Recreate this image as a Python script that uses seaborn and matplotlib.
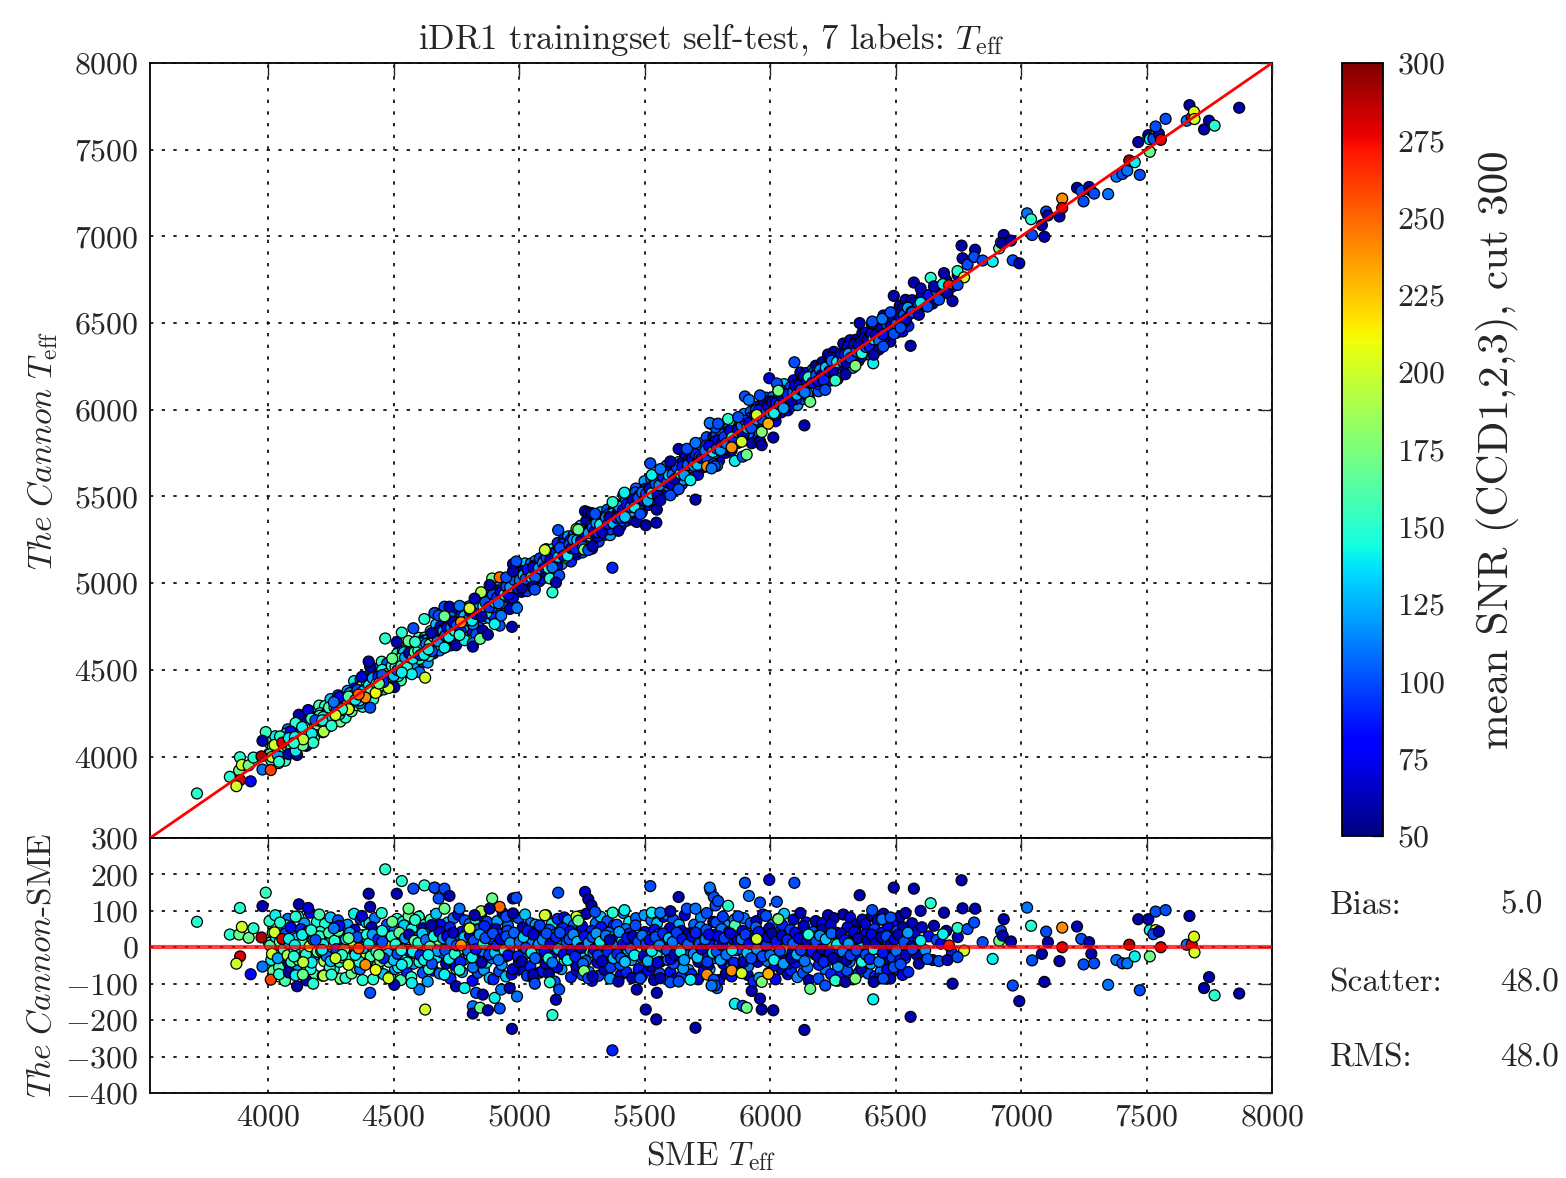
import numpy as np
import pandas as pd
import matplotlib
matplotlib.use("Agg")
import matplotlib.pyplot as plt
import seaborn as sns
from matplotlib.colors import Normalize
from matplotlib.cm import ScalarMappable

# ---------------- data ----------------
# dense band of the sample: SME Teff, Cannon-SME residual, mean SNR
band_sme = [
    4004, 4013, 4019, 4027, 4035, 4044, 4051, 4058, 4066, 4073, 4081, 4089, 4096,
    4103, 4109, 4118, 4125, 4131, 4140, 4147, 4155, 4162, 4170, 4177, 4185, 4193,
    4202, 4208, 4216, 4224, 4230, 4239, 4246, 4253, 4261, 4268, 4276, 4284, 4291,
    4301, 4307, 4315, 4322, 4330, 4338, 4345, 4352, 4360, 4367, 4375, 4383, 4390,
    4398, 4406, 4413, 4421, 4428, 4436, 4443, 4451, 4459, 4466, 4474, 4481, 4489,
    4497, 4504, 4512, 4519, 4527, 4535, 4542, 4550, 4558, 4565, 4573, 4580, 4588,
    4596, 4603, 4611, 4618, 4626, 4634, 4641, 4649, 4657, 4664, 4672, 4679, 4687,
    4695, 4702, 4710, 4718, 4725, 4733, 4740, 4748, 4756, 4763, 4771, 4778, 4786,
    4794, 4801, 4809, 4817, 4824, 4832, 4839, 4847, 4855, 4862, 4870, 4877, 4885,
    4893, 4900, 4908, 4916, 4923, 4931, 4938, 4946, 4954, 4961, 4969, 4976, 4984,
    4992, 5000, 5007, 5015, 5022, 5030, 5038, 5045, 5053, 5060, 5068, 5076, 5083,
    5091, 5099, 5106, 5114, 5121, 5129, 5137, 5144, 5152, 5159, 5167, 5175, 5182,
    5190, 5198, 5205, 5213, 5220, 5228, 5236, 5243, 5251, 5258, 5266, 5274, 5281,
    5289, 5297, 5304, 5312, 5319, 5327, 5335, 5342, 5350, 5357, 5365, 5373, 5380,
    5388, 5396, 5403, 5411, 5418, 5426, 5434, 5441, 5449, 5456, 5464, 5472, 5479,
    5487, 5495, 5502, 5510, 5517, 5525, 5533, 5540, 5548, 5555, 5563, 5571, 5578,
    5586, 5594, 5601, 5609, 5616, 5624, 5632, 5639, 5647, 5654, 5662, 5670, 5677,
    5685, 5693, 5700, 5708, 5715, 5723, 5731, 5738, 5746, 5753, 5761, 5769, 5776,
    5784, 5792, 5799, 5807, 5814, 5822, 5830, 5837, 5845, 5852, 5860, 5868, 5875,
    5883, 5891, 5898, 5906, 5913, 5921, 5929, 5936, 5944, 5951, 5959, 5967, 5974,
    5982, 5990, 5997, 6005, 6012, 6020, 6028, 6035, 6043, 6050, 6058, 6066, 6073,
    6081, 6089, 6096, 6104, 6111, 6119, 6127, 6134, 6142, 6149, 6157, 6165, 6172,
    6180, 6188, 6195, 6203, 6210, 6218, 6226, 6233, 6241, 6248, 6256, 6264, 6271,
    6279, 6287, 6294, 6302, 6309, 6317, 6325, 6332, 6340, 6347, 6355, 6363, 6370,
    6378, 6386, 6393, 6401, 6408, 6416, 6424, 6431, 6439, 6446, 6454, 6462, 6469,
    6477, 6485, 6492, 6500, 6507, 6515, 6523, 6530, 6538, 6545, 6553, 6561, 6568,
    6576, 6584, 6591, 6605, 6618, 6632, 6648, 6664, 6681, 6702, 6725, 6748,
]
band_resid = [
    12, -35, 40, -8, 25, -55, 5, 33, -20, 60, -42, 18, -5,
    30, -15, -48, 22, 50, -3, -30, 14, 45, -60, 8, -22, 35,
    -12, 42, 20, -38, 5, 28, -55, 16, -24, 52, 0, -40, 25,
    38, -20, 10, -45, 26, -8, 48, -30, 15, -60, 33, 4, -18,
    20, -35, 55, -10, 32, -50, 8, 40, -25, 12, 62, -40, -2,
    -22, 45, 15, -55, 30, -5, 60, -30, 22, -12, 50, -45, 8,
    28, -40, 5, 52, -18, 38, -60, 15, -8, 45, -28, 20, 62,
    -15, 35, -45, 12, 55, -25, 8, -50, 30, -5, 42, -35, 18,
    40, -20, 25, -55, 5, 48, -30, 15, -10, 58, -42, 22, -2,
    -30, 20, 50, -12, 35, -48, 10, -25, 45, -5, 28, -60, 15,
    25, -40, 8, 55, -20, 38, -8, -52, 18, 42, -30, 5, 60,
    -10, 30, -45, 15, 48, -25, 5, 35, -55, 20, -12, 52, -35,
    12, -28, 44, -5, 25, -50, 38, -18, 58, 2, -38, 22, -8,
    45, -15, 20, -42, 8, 55, -30, 15, -5, 40, -55, 28, -20,
    5, 32, -48, 18, -22, 50, -8, 38, -35, 10, 60, -15, 25,
    -28, 15, 42, -12, 28, -52, 5, 48, -20, 35, -40, 12, -2,
    22, -35, 52, -5, -45, 30, 10, -22, 45, -58, 18, -10, 38,
    -15, 40, -2, 25, -40, 55, -25, 12, 48, -50, 30, 5, -30,
    35, -22, 15, 50, -45, 8, -15, 42, -55, 22, 60, -8, 28,
    -5, 45, -30, 18, -52, 32, 5, -20, 55, -40, 12, 38, -12,
    20, -38, 52, -10, 30, -50, 8, 40, -25, 60, -5, 25, -45,
    48, -15, 22, -42, 5, 35, -28, 58, 12, -55, 30, -8, 42,
    -20, 30, -48, 15, 50, -5, 25, -35, 62, 8, -18, 40, -52,
    12, -28, 38, -10, 55, -40, 20, -5, 45, -22, 30, -58, 5,
    35, -15, 5, -45, 28, 50, -25, 15, -8, 40, -35, 22, 60,
    -10, 30, -40, 18, 45, -22, 8, 55, -30, 12, 38, -5, 25,
    40, -20, 15, 55, -8, 30, -35, 20, 10, 45, -15, 28,
]
band_snr = [
    150, 140, 170, 200, 110, 160, 130, 90, 180, 145, 60, 210, 150,
    140, 175, 120, 150, 90, 200, 160, 130, 70, 145, 185, 110, 150,
    160, 150, 100, 190, 135, 80, 150, 170, 140, 120, 210, 150, 100,
    130, 150, 180, 95, 145, 240, 70, 160, 150, 110, 175, 140, 200,
    150, 120, 60, 170, 140, 155, 90, 150, 185, 130, 100, 160, 145,
    150, 110, 175, 140, 80, 200, 130, 150, 160, 70, 145, 120, 190,
    100, 150, 140, 60, 170, 120, 150, 90, 150, 110, 140, 175, 80,
    100, 140, 60, 110, 90, 150, 120, 70, 100, 165, 85, 130, 110,
    95, 150, 70, 110, 130, 100, 60, 175, 115, 90, 140, 100, 80,
    110, 100, 65, 160, 90, 120, 140, 80, 100, 105, 200, 70, 130,
    100, 85, 140, 60, 120, 105, 150, 90, 115, 70, 130, 100, 95,
    120, 95, 60, 145, 100, 80, 170, 110, 70, 130, 100, 90, 150,
    100, 130, 80, 110, 160, 60, 95, 140, 75, 120, 105, 85, 150,
    90, 110, 140, 70, 100, 85, 120, 165, 60, 105, 95, 130, 75,
    115, 80, 100, 145, 65, 110, 130, 90, 120, 60, 100, 155, 95,
    100, 140, 70, 110, 95, 60, 125, 85, 150, 105, 75, 115, 180,
    90, 110, 65, 130, 100, 80, 145, 95, 60, 120, 105, 150, 70,
    105, 75, 140, 95, 60, 115, 90, 165, 100, 70, 125, 85, 110,
    90, 60, 100, 110, 70, 140, 95, 65, 120, 80, 160, 100, 75,
    100, 70, 130, 60, 110, 95, 150, 80, 105, 65, 120, 90, 175,
    80, 110, 60, 140, 95, 70, 120, 100, 65, 90, 155, 105, 75,
    95, 60, 120, 85, 150, 70, 105, 65, 90, 110, 140, 75, 100,
    70, 100, 90, 145, 60, 115, 80, 105, 65, 170, 95, 60, 120,
    100, 65, 130, 85, 70, 110, 60, 150, 90, 75, 105, 60, 140,
    80, 100, 60, 120, 70, 95, 155, 65, 110, 85, 60, 100, 75,
    60, 90, 110, 65, 100, 75, 140, 60, 95, 70, 105, 60, 85,
    70, 60, 100, 65, 120, 85, 60, 100, 75, 60, 90, 65,
]

# outer edge of the band (|residual| ~ 60-95 K)
mid_sme = [
    4006, 4021, 4029, 4042, 4055, 4068, 4079, 4091,
    4112, 4120, 4133, 4145, 4158, 4167, 4183, 4195,
    4204, 4218, 4227, 4241, 4249, 4262, 4279, 4288,
    4309, 4317, 4333, 4343, 4354, 4369, 4377, 4392,
    4404, 4419, 4426, 4438, 4453, 4461, 4476, 4487,
    4506, 4514, 4529, 4537, 4552, 4560, 4571, 4586,
    4601, 4617, 4624, 4636, 4648, 4659, 4670, 4684,
    4705, 4716, 4727, 4739, 4750, 4758, 4773, 4784,
    4803, 4815, 4826, 4836, 4849, 4860, 4872, 4883,
    4898, 4913, 4921, 4935, 4948, 4956, 4971, 4982,
    4998, 5010, 5024, 5032, 5047, 5058, 5066, 5081,
    5093, 5108, 5119, 5131, 5142, 5154, 5169, 5180,
    5196, 5207, 5218, 5230, 5245, 5253, 5268, 5279,
    5291, 5306, 5317, 5325, 5340, 5352, 5363, 5378,
    5390, 5405, 5416, 5428, 5439, 5451, 5466, 5477,
    5489, 5500, 5515, 5527, 5538, 5550, 5561, 5576,
    5588, 5603, 5614, 5626, 5637, 5649, 5660, 5675,
    5687, 5698, 5713, 5725, 5736, 5748, 5759, 5774,
    5786, 5797, 5812, 5824, 5835, 5847, 5858, 5873,
    5885, 5896, 5911, 5923, 5934, 5946, 5957, 5972,
    5984, 5995, 6010, 6022, 6033, 6045, 6056, 6071,
    6083, 6094, 6109, 6121, 6132, 6144, 6155, 6170,
    6182, 6193, 6208, 6220, 6231, 6243, 6254, 6269,
    6281, 6292, 6307, 6319, 6330, 6342, 6353, 6368,
    6380, 6391, 6406, 6418, 6429, 6441, 6452, 6467,
    6479, 6490, 6505, 6517, 6528, 6540, 6551, 6566,
]
mid_resid = [
    72, -65, 88, -80, 60, -92, 78, -58,
    -70, 85, -62, 66, -88, 95, -75, 70,
    90, -78, 64, -68, 82, -60, 74, -86,
    -84, 62, -72, 92, -58, 76, -90, 68,
    66, -88, 80, -62, 94, -74, 58, -80,
    -60, 78, -90, 70, -66, 86, -82, 62,
    84, -70, 62, -94, 76, -64, 92, -72,
    -76, 68, -86, 80, -60, 90, -68, 74,
    64, -92, 78, -70, 88, -62, 70, -84,
    -88, 72, -66, 94, -80, 60, -74, 86,
    80, -60, 90, -78, 66, -86, 62, -70,
    -66, 88, -72, 64, -94, 78, -60, 82,
    74, -82, 60, -64, 86, -76, 92, -68,
    -92, 66, -78, 84, -62, 72, -86, 60,
    62, -76, 94, -68, 70, -84, 80, -60,
    -80, 88, -64, 74, -90, 66, -72, 84,
    90, -68, 76, -86, 62, -78, 88, -62,
    -74, 62, -88, 82, -66, 94, -60, 70,
    68, -90, 84, -72, 60, -80, 76, -64,
    -62, 80, -76, 66, -94, 72, -84, 90,
    86, -70, 62, -88, 78, -60, 92, -74,
    -64, 76, -82, 94, -70, 68, -90, 62,
    72, -86, 66, -60, 88, -74, 80, -92,
    -78, 90, -64, 82, -88, 62, -70, 76,
    64, -72, 86, -80, 74, -66, 92, -62,
    -86, 70, -60, 84, -76, 94, -68, 66,
]
mid_snr = [
    150, 170, 140, 200, 130, 160, 110, 150,
    140, 150, 190, 120, 150, 80, 160, 145,
    160, 140, 150, 200, 130, 150, 100, 170,
    150, 120, 170, 140, 160, 90, 150, 135,
    140, 150, 110, 180, 150, 130, 200, 150,
    120, 150, 160, 140, 90, 170, 150, 130,
    150, 100, 140, 120, 160, 80, 130, 110,
    100, 130, 90, 110, 150, 70, 120, 100,
    110, 80, 140, 100, 70, 120, 95, 130,
    90, 120, 100, 60, 130, 105, 80, 110,
    100, 70, 130, 95, 110, 60, 120, 90,
    85, 110, 60, 140, 100, 90, 120, 75,
    120, 90, 105, 70, 130, 100, 60, 115,
    80, 110, 95, 130, 60, 100, 120, 90,
    100, 70, 115, 90, 140, 60, 105, 85,
    95, 120, 80, 110, 65, 130, 100, 75,
    110, 85, 100, 60, 125, 95, 70, 120,
    90, 105, 65, 115, 80, 100, 130, 60,
    100, 70, 95, 60, 120, 85, 110, 65,
    75, 110, 60, 100, 90, 65, 120, 85,
    100, 60, 110, 80, 95, 70, 130, 65,
    90, 70, 115, 60, 100, 85, 60, 120,
    60, 100, 75, 110, 65, 90, 60, 105,
    85, 60, 100, 70, 120, 60, 95, 65,
    70, 100, 60, 90, 65, 110, 60, 80,
    60, 85, 100, 60, 75, 60, 90, 65,
]

# tight core of the band
core_sme = [
    4008, 4016, 4031, 4039, 4047, 4062, 4070, 4078, 4085, 4093,
    4106, 4114, 4122, 4136, 4144, 4151, 4166, 4174, 4181, 4197,
    4205, 4212, 4220, 4234, 4243, 4250, 4265, 4272, 4280, 4295,
    4304, 4311, 4319, 4326, 4341, 4349, 4356, 4364, 4379, 4394,
    4402, 4409, 4417, 4432, 4440, 4447, 4455, 4470, 4478, 4493,
    4501, 4508, 4516, 4523, 4531, 4546, 4554, 4562, 4577, 4584,
    4599, 4607, 4615, 4622, 4630, 4645, 4653, 4661, 4676, 4683,
    4698, 4706, 4714, 4721, 4729, 4737, 4744, 4752, 4767, 4782,
    4797, 4805, 4813, 4820, 4828, 4843, 4851, 4858, 4866, 4881,
    4896, 4904, 4912, 4919, 4927, 4942, 4950, 4957, 4965, 4980,
    4996, 5003, 5011, 5018, 5026, 5034, 5049, 5057, 5064, 5079,
    5095, 5102, 5110, 5117, 5125, 5133, 5148, 5156, 5163, 5178,
    5194, 5201, 5209, 5216, 5224, 5232, 5247, 5255, 5262, 5277,
    5293, 5300, 5308, 5315, 5323, 5331, 5346, 5354, 5361, 5376,
    5392, 5399, 5407, 5414, 5422, 5430, 5445, 5453, 5460, 5475,
    5491, 5498, 5506, 5513, 5521, 5529, 5544, 5552, 5559, 5574,
    5590, 5597, 5605, 5612, 5620, 5628, 5643, 5651, 5658, 5673,
    5689, 5696, 5704, 5711, 5719, 5727, 5742, 5750, 5757, 5772,
    5788, 5795, 5803, 5810, 5818, 5826, 5841, 5849, 5856, 5871,
    5887, 5894, 5902, 5909, 5917, 5925, 5940, 5948, 5955, 5970,
    5986, 5993, 6001, 6008, 6016, 6024, 6039, 6047, 6054, 6069,
    6085, 6092, 6100, 6107, 6115, 6123, 6138, 6146, 6153, 6168,
    6184, 6191, 6199, 6206, 6214, 6222, 6237, 6245, 6252, 6267,
    6283, 6290, 6298, 6305, 6313, 6321, 6336, 6344, 6351, 6366,
    6382, 6389, 6397, 6404, 6412, 6420, 6435, 6443, 6450, 6465,
    6481, 6488, 6496, 6503, 6511, 6519, 6534, 6542, 6549, 6564,
]
core_resid = [
    5, -18, 28, -30, 15, -5, 38, -22, 10, -40,
    -8, 25, -35, 12, 36, -20, 3, -42, 20, -12,
    30, -10, 8, -25, 40, -38, 18, -5, 45, -28,
    -5, 22, -32, 40, 12, -15, 28, -40, -2, 35,
    10, -25, 35, -12, 22, -38, 45, 5, -18, 30,
    -35, 8, -18, 40, -8, 25, -42, 35, -12, 18,
    12, -22, 38, -35, 20, 2, -45, 30, -10, 42,
    25, -8, 30, -32, 15, 40, -18, 5, -40, 28,
    -10, 32, -28, 18, -5, 35, -42, 10, 25, -20,
    38, -15, 5, -35, 22, -8, 30, -22, 12, 40,
    -25, 15, -38, 28, -2, 45, -15, 35, -30, 8,
    20, -12, 38, -30, 10, -42, 28, -5, 40, -20,
    -35, 22, -8, 35, -25, 15, -2, -45, 30, 12,
    28, -5, 38, -22, 15, -38, 32, -12, 20, -30,
    -18, 42, -30, 8, -40, 25, -5, 30, -22, 15,
    32, -25, 10, -38, 20, -10, 28, -42, 5, 38,
    -8, 25, -32, 15, -20, 40, -12, 22, -35, 8,
    30, -18, 40, -28, 10, -5, 22, -40, 35, -15,
    -12, 30, -35, 5, 25, -20, 38, -8, -42, 18,
    22, -40, 35, -15, 10, -30, 28, -5, 42, -25,
    5, 28, -22, 38, -35, 15, -10, 32, -45, 20,
    -30, 10, 40, -20, 25, -8, -38, 18, 35, -12,
    15, -25, 32, -5, -40, 22, -15, 38, -30, 8,
    38, -12, 20, -35, 10, -22, 42, -8, 25, -40,
    -20, 18, -32, 35, -5, 12, -40, 28, -15, 30,
    8, -28, 22, -10, 35, -35, 15, -20, 40, 2,
]
core_snr = [
    160, 200, 140, 120, 170, 150, 100, 190, 140, 155,
    145, 130, 170, 160, 90, 150, 200, 140, 120, 175,
    150, 180, 140, 110, 160, 130, 150, 95, 170, 140,
    170, 140, 150, 120, 200, 160, 100, 145, 130, 150,
    140, 160, 120, 150, 90, 175, 145, 200, 130, 150,
    130, 150, 100, 170, 145, 120, 150, 60, 140, 165,
    150, 90, 130, 140, 110, 160, 100, 145, 120, 70,
    120, 100, 80, 140, 110, 65, 150, 100, 90, 130,
    110, 70, 140, 100, 85, 120, 60, 150, 100, 95,
    100, 130, 90, 110, 70, 150, 100, 80, 120, 105,
    90, 110, 60, 130, 100, 85, 140, 70, 105, 120,
    115, 80, 100, 150, 65, 110, 90, 130, 100, 75,
    140, 100, 70, 115, 90, 130, 60, 105, 85, 120,
    100, 75, 120, 95, 140, 65, 110, 90, 60, 125,
    90, 120, 100, 70, 130, 85, 110, 60, 140, 100,
    110, 65, 95, 125, 80, 140, 100, 70, 115, 90,
    100, 130, 75, 110, 60, 95, 140, 85, 120, 105,
    70, 115, 90, 130, 100, 65, 110, 95, 80, 140,
    100, 80, 120, 60, 95, 110, 70, 140, 90, 65,
    110, 60, 95, 130, 75, 100, 65, 120, 85, 100,
    95, 70, 110, 60, 140, 85, 100, 65, 120, 90,
    60, 105, 80, 125, 70, 95, 110, 60, 150, 85,
    100, 70, 115, 60, 90, 130, 75, 105, 60, 140,
    65, 110, 85, 60, 120, 95, 70, 100, 60, 145,
    100, 60, 90, 75, 140, 65, 110, 60, 85, 100,
    60, 95, 70, 110, 60, 85, 100, 65, 120, 60,
]

# sparser stars and outliers
out_sme = [
    3717, 3888, 3991, 3978, 3848, 3885, 3896, 3923, 3942, 3974,
    3889, 3874, 3931, 3978, 4011, 4026, 4048, 4057, 4123, 4160,
    4110, 4090, 4083, 4044, 4083, 4116, 4110, 4153, 4180, 4139,
    4107, 4136, 4172, 4140, 4103, 4189, 4216, 4222, 4253, 4284,
    4321, 4262, 4374, 4407, 4467, 4533, 4513, 4579, 4623, 4665,
    4401, 4407, 4503, 4603, 4626, 4480, 4573, 4321, 4388, 4429,
    4455, 4495, 4560, 4586, 4652, 4639, 4533, 4348, 4460, 4295,
    4269, 4361, 4442,
    4663, 4703, 4680, 4723, 4703, 4763, 4893, 4923, 4976, 4989,
    4849, 4883, 4803, 4769, 4823, 4949, 4976, 5156, 5263, 5276,
    5289, 5303, 5103, 5229, 5236, 5373, 5420, 5523, 5636, 5529,
    5563, 5603, 5669, 5703, 5763, 5776, 5783,
    4749, 4783, 4829, 4856, 4816, 4816, 4845, 4876, 4923, 4903,
    4929, 4963, 4992, 4972, 4763, 4703, 5056, 5063, 5123, 5160,
    5147, 5133, 5259, 5276, 5293, 5396, 5372, 5469, 5505, 5547,
    5549, 5483, 5563, 5603, 5636, 5683, 5703, 5749, 5776, 5789,
    5760, 5793, 5900, 5997, 6097, 5916, 5960, 6027, 5833, 5873,
    5947, 6033, 6357, 6493, 6573, 6640, 6407, 6447, 6480, 6600,
    6693, 6763, 6767, 6817, 6747, 6787, 6813, 6847, 6653, 6689,
    6713, 6773, 6887, 6600, 6567, 6593, 6627, 6673, 6707, 6747,
    6727, 6560, 6411, 6433, 6493, 6520, 6137, 6160, 6220, 6260,
    6300, 6340, 6413, 6451, 5927, 5960, 5967, 6013, 5860, 5891,
    5907, 5780, 5767, 5847, 5887, 5967, 5993,
    6913, 6920, 6931, 6927, 6960, 6967, 6993, 7024, 7040, 7044,
    7083, 7093, 7100, 7107, 7153, 7164, 7164, 7223, 7240, 7271,
    7280, 7249, 7291, 7347, 7380, 7404, 7423, 7431, 7453, 7467,
    7473, 7507, 7513, 7536, 7513, 7527, 7549, 7536, 7576, 7557,
    7671, 7660, 7680, 7689, 7691, 7749, 7729, 7771, 7869,
]
out_resid = [
    70, 108, 150, 113, 35, 35, 56, 26, 52, 27,
    -25, -45, -74, -53, -89, 41, 68, 23, 118, 108,
    84, 55, 23, -74, -69, -107, -77, -91, -100, -75,
    6, 34, 47, -41, -25, 20, -7, -78, -75, 59,
    25, 52, 86, 111, 214, 182, 147, 161, 170, 163,
    147, -125, -103, -116, -171, -85, -98, -48, -48, -62,
    15, 70, 106, 75, 61, -21, -48, -21, -30, -21,
    -30, -3, -21,
    164, 161, 134, 141, 106, 106, 134, 111, 134, 136,
    99, 106, 52, 6, 88, 84, 93, 150, 152, 132,
    115, 97, 88, 84, 73, 95, 102, 168, 138, 95,
    95, 99, 106, 106, 156, 138, 115,
    -107, -112, -125, -130, -162, -182, -166, -173, -168, -139,
    -116, -112, -135, -224, -62, -75, -75, -100, -96, -116,
    -144, -186, -65, -85, -80, -94, -283, -116, -171, -198,
    -125, -85, -85, -96, -94, -89, -221, -75, -89, -112,
    164, 127, 177, 185, 177, 141, 123, 125, 114, 85,
    23, 77, 143, 164, 161, 121, 102, 77, 82, 100,
    95, 184, 107, 106, 53, 50, 68, 14, 59, 36,
    5, -9, -32, 18, -5, -45, -32, -38, -35, -27,
    -100, -191, -143, -86, -55, -47, -227, -114, -105, -91,
    -95, -86, -95, -86, -120, -141, -171, -173, -155, -161,
    -166, -105, -105, -64, -71, -95, -73,
    18, 45, 77, 32, 16, -105, -148, 109, 59, -36,
    -18, -95, 43, 14, -38, 54, 0, 57, 23, 14,
    -18, -47, -44, -103, -35, -44, -44, 7, -25, 77,
    -118, 77, 47, 47, -25, 36, 43, 98, 102, 0,
    86, 7, 7, 29, -14, -82, -112, -132, -127,
]
out_snr = [
    150, 150, 155, 60, 150, 170, 200, 170, 150, 290,
    280, 200, 80, 110, 260, 200, 150, 280, 60, 70,
    150, 80, 140, 150, 60, 60, 140, 65, 150, 170,
    140, 140, 150, 195, 150, 100, 140, 190, 150, 80,
    165, 110, 70, 60, 150, 150, 60, 100, 150, 80,
    60, 100, 60, 110, 200, 200, 140, 200, 240, 210,
    100, 170, 170, 150, 60, 140, 140, 140, 90, 150,
    200, 250, 170,
    100, 100, 100, 60, 170, 110, 170, 250, 70, 100,
    190, 60, 200, 240, 60, 100, 60, 100, 70, 60,
    60, 100, 200, 200, 170, 150, 140, 100, 60, 140,
    110, 60, 100, 110, 100, 100, 100,
    60, 140, 100, 60, 110, 60, 170, 60, 100, 140,
    110, 60, 110, 60, 150, 140, 60, 100, 150, 100,
    60, 150, 175, 100, 60, 60, 90, 60, 60, 60,
    60, 100, 60, 100, 100, 140, 60, 240, 100, 110,
    110, 100, 100, 70, 100, 110, 100, 100, 150, 100,
    200, 175, 60, 60, 60, 150, 100, 110, 100, 60,
    60, 60, 60, 60, 150, 100, 100, 100, 60, 140,
    270, 200, 140, 140, 100, 60, 100, 100, 60, 100,
    60, 60, 140, 60, 100, 100, 60, 170, 100, 150,
    60, 175, 60, 100, 60, 60, 60, 60, 140, 100,
    170, 100, 110, 240, 200, 175, 230,
    170, 100, 60, 60, 60, 100, 60, 110, 150, 100,
    60, 60, 100, 60, 60, 240, 280, 60, 100, 60,
    60, 100, 100, 110, 110, 100, 110, 290, 140, 60,
    100, 60, 140, 205, 170, 100, 60, 100, 100, 280,
    60, 110, 280, 205, 200, 60, 60, 150, 60,
]

snr_ticks = [50, 75, 100, 125, 150, 175, 200, 225, 250, 275, 300]
teff_ticks = [4000, 4500, 5000, 5500, 6000, 6500, 7000, 7500, 8000]
resid_ticks = [-400, -300, -200, -100, 0, 100, 200, 300]
stat_names = ["Bias:", "Scatter:", "RMS:"]
stat_values = ["5.0", "48.0", "48.0"]

# ---------------- assemble ----------------
def block(a, b, c):
    m = min(len(a), len(b), len(c))
    return pd.DataFrame({"sme": a[:m], "resid": b[:m], "snr": c[:m]})

df = pd.concat([block(mid_sme, mid_resid, mid_snr),
                block(band_sme, band_resid, band_snr),
                block(core_sme, core_resid, core_snr),
                block(out_sme, out_resid, out_snr)], ignore_index=True)
df["cannon"] = df["sme"] + df["resid"]

# ---------------- style ----------------
sns.set_style("white")
plt.rcParams.update({
    "font.family": ["cmr10", "DejaVu Serif"],
    "mathtext.fontset": "cm",
    "axes.formatter.use_mathtext": True,
    "axes.unicode_minus": True,
    "axes.linewidth": 1.3,
    "axes.edgecolor": "black",
})

jet = matplotlib.colormaps["jet"]

fig = plt.figure(figsize=(15.66, 11.78), dpi=100)
ax = fig.add_axes([0.0958, 0.2886, 0.7165, 0.6579])
axr = fig.add_axes([0.0958, 0.0722, 0.7165, 0.2164])
cax = fig.add_axes([0.857, 0.2903, 0.0262, 0.6562])

lo, hi = 3530, 8000
norm = Normalize(vmin=50, vmax=300)
kw = dict(hue="snr", palette=jet, hue_norm=norm, legend=False,
          s=62, edgecolor="black", linewidth=0.9)

sns.scatterplot(data=df, x="sme", y="cannon", ax=ax, zorder=3, **kw)
ax.plot([lo, hi], [lo, hi], color="red", lw=2, zorder=4)
sns.scatterplot(data=df, x="sme", y="resid", ax=axr, zorder=3, **kw)
axr.axhline(0, color="red", lw=3, alpha=0.75, zorder=4)

for a in (ax, axr):
    a.set_xlim(lo, hi)
    a.set_xticks(teff_ticks)
    a.grid(True, color="black", linestyle=(0, (2, 5)), linewidth=1.2)
    a.tick_params(direction="in", length=9, width=1, top=True, right=True,
                  labelsize=23, pad=8)
    a.set_axisbelow(False)

ax.set_ylim(lo, hi)
ax.set_yticks(teff_ticks)
ax.set_xticklabels([])
ax.set_xlabel("")
ax.set_ylabel(r"$\mathit{The\ Cannon}\ T_{\rm eff}$", fontsize=24, labelpad=10)
ax.set_title(r"iDR1 trainingset self-test, 7 labels: $T_{\rm eff}$", fontsize=25, pad=10)

axr.set_ylim(-400, 300)
axr.set_yticks(resid_ticks)
axr.set_xlabel(r"SME $T_{\rm eff}$", fontsize=24, labelpad=6)
axr.set_ylabel(r"$\mathit{The\ Cannon}$-SME", fontsize=24, labelpad=6)

sm = ScalarMappable(norm=norm, cmap=jet)
cb = fig.colorbar(sm, cax=cax, ticks=snr_ticks)
cb.ax.tick_params(direction="in", length=8, width=1, labelsize=23, pad=10)
cb.outline.set_linewidth(1.3)
cb.set_label("mean SNR (CCD1,2,3), cut 300", fontsize=31, labelpad=22)

ys = [0.2317, 0.1655, 0.1019]
for name, val, y in zip(stat_names, stat_values, ys):
    fig.text(0.849, y, name, fontsize=24, va="center", ha="left")
    fig.text(0.958, y, val, fontsize=24, va="center", ha="left")

fig.savefig("out.png", dpi=100)
